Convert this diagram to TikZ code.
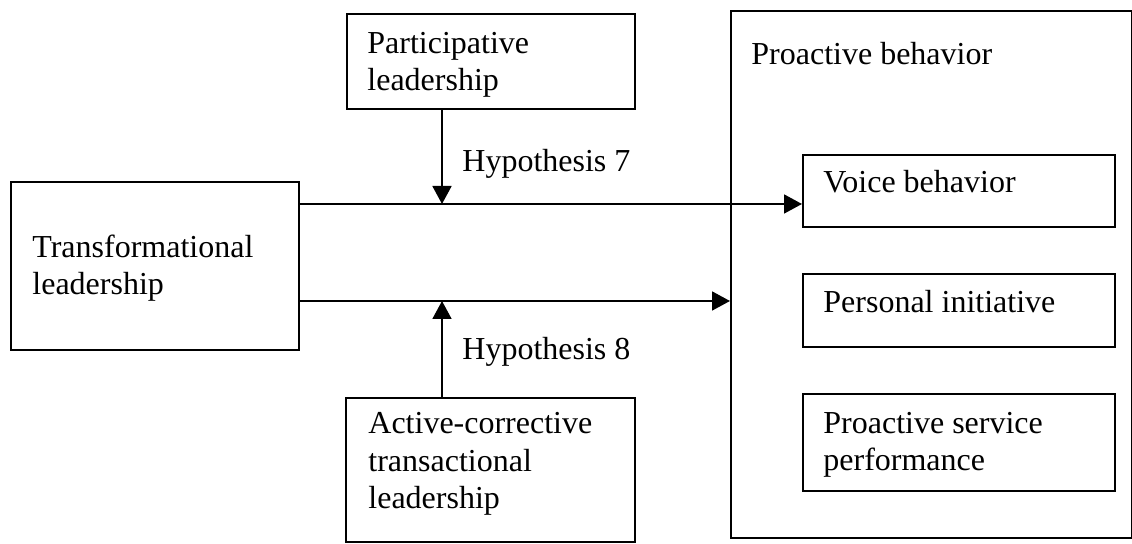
\documentclass[tikz,border=0pt]{standalone}
\usepackage{fontspec}
\setmainfont{Liberation Serif}
\usetikzlibrary{arrows.meta}
\begin{document}
\begin{tikzpicture}[x=0.5pt,y=-0.5pt,
  box/.style={draw, line width=0.9pt, inner sep=0pt, anchor=north west},
  lbl/.style={anchor=base west, inner sep=0pt, align=left,
    font=\fontsize{16}{18.75}\selectfont},
  arr/.style={line width=0.9pt, -{Triangle[length=9pt,width=9.5pt]}}]
\useasboundingbox (0,0) rectangle (1132,544);

% boxes
\node[box, minimum width=144pt, minimum height=47.5pt] (pl) at (346,13) {};
\node[box, minimum width=144pt, minimum height=84pt] (tl) at (10,181) {};
\node[box, minimum width=144.5pt, minimum height=72pt] (ac) at (345,397) {};
\node[box, minimum width=200.5pt, minimum height=263.5pt] (pb) at (730,10) {};
\node[box, minimum width=156pt, minimum height=36pt] (vb) at (802,154) {};
\node[box, minimum width=156pt, minimum height=36.5pt] (pi) at (802,273) {};
\node[box, minimum width=156pt, minimum height=48.5pt] (ps) at (802,393) {};

% box texts (placed by the baseline of their last line)
\node[lbl] (plt) at (367,91) {Participative\\leadership};
\node[lbl] (tlt) at (32,295) {Transformational\\leadership};
\node[lbl] (act) at (368,509) {Active-corrective\\transactional\\leadership};
\node[lbl] (pbt) at (751,65) {Proactive behavior};
\node[lbl] (vbt) at (823,193) {Voice behavior};
\node[lbl] (pit) at (823,313) {Personal initiative};
\node[lbl] (pst) at (823,471) {Proactive service\\performance};

% hypothesis labels
\node[lbl] (h7t) at (462,172) {Hypothesis 7};
\node[lbl] (h8t) at (462,360) {Hypothesis 8};

% meeting points of the moderating arrows
\coordinate (m7) at (442,204);
\coordinate (m8) at (442,301);

% connectors
\draw[arr] (tl.east |- m7) -- (vb.west |- m7);
\draw[arr] (tl.east |- m8) -- (pb.west |- m8);
\draw[arr] (m7 |- pl.south) -- (m7);
\draw[arr] (m8 |- ac.north) -- (m8);
\end{tikzpicture}
\end{document}
